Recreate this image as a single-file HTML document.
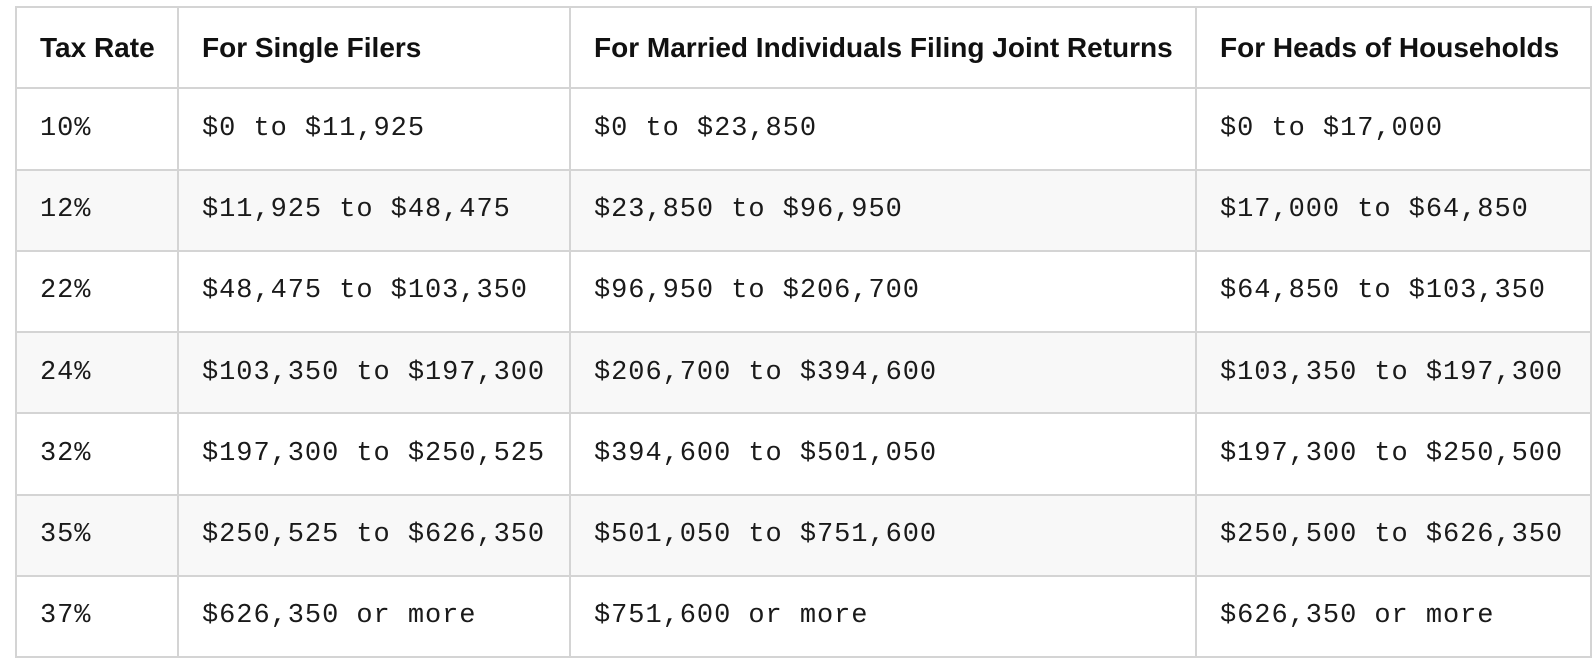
<!DOCTYPE html>
<html><head><meta charset="utf-8"><style>
body{margin:0;background:#fff;width:1594px;height:664px;overflow:hidden}
table{position:absolute;left:15px;top:6px;border-collapse:collapse;table-layout:fixed;width:1575px}
tr{height:81.25px}
td,th{border:2px solid #d4d4d4;padding:0 0 0 23px;text-align:left;white-space:nowrap;color:#1a1a1a;box-sizing:border-box}
th{font:bold 28px "Liberation Sans",sans-serif;color:#111}
td{font:27px "Liberation Mono",monospace;letter-spacing:0.95px}
tr.s td{background:#f8f8f8}
</style></head><body>
<table>
<colgroup><col style="width:162px"><col style="width:392px"><col style="width:626px"><col style="width:395px"></colgroup>
<tr><th>Tax Rate</th><th>For Single Filers</th><th>For Married Individuals Filing Joint Returns</th><th>For Heads of Households</th></tr>
<tr><td>10%</td><td>$0 to $11,925</td><td>$0 to $23,850</td><td>$0 to $17,000</td></tr>
<tr class="s"><td>12%</td><td>$11,925 to $48,475</td><td>$23,850 to $96,950</td><td>$17,000 to $64,850</td></tr>
<tr><td>22%</td><td>$48,475 to $103,350</td><td>$96,950 to $206,700</td><td>$64,850 to $103,350</td></tr>
<tr class="s"><td>24%</td><td>$103,350 to $197,300</td><td>$206,700 to $394,600</td><td>$103,350 to $197,300</td></tr>
<tr><td>32%</td><td>$197,300 to $250,525</td><td>$394,600 to $501,050</td><td>$197,300 to $250,500</td></tr>
<tr class="s"><td>35%</td><td>$250,525 to $626,350</td><td>$501,050 to $751,600</td><td>$250,500 to $626,350</td></tr>
<tr><td>37%</td><td>$626,350 or more</td><td>$751,600 or more</td><td>$626,350 or more</td></tr>
</table>
</body></html>
